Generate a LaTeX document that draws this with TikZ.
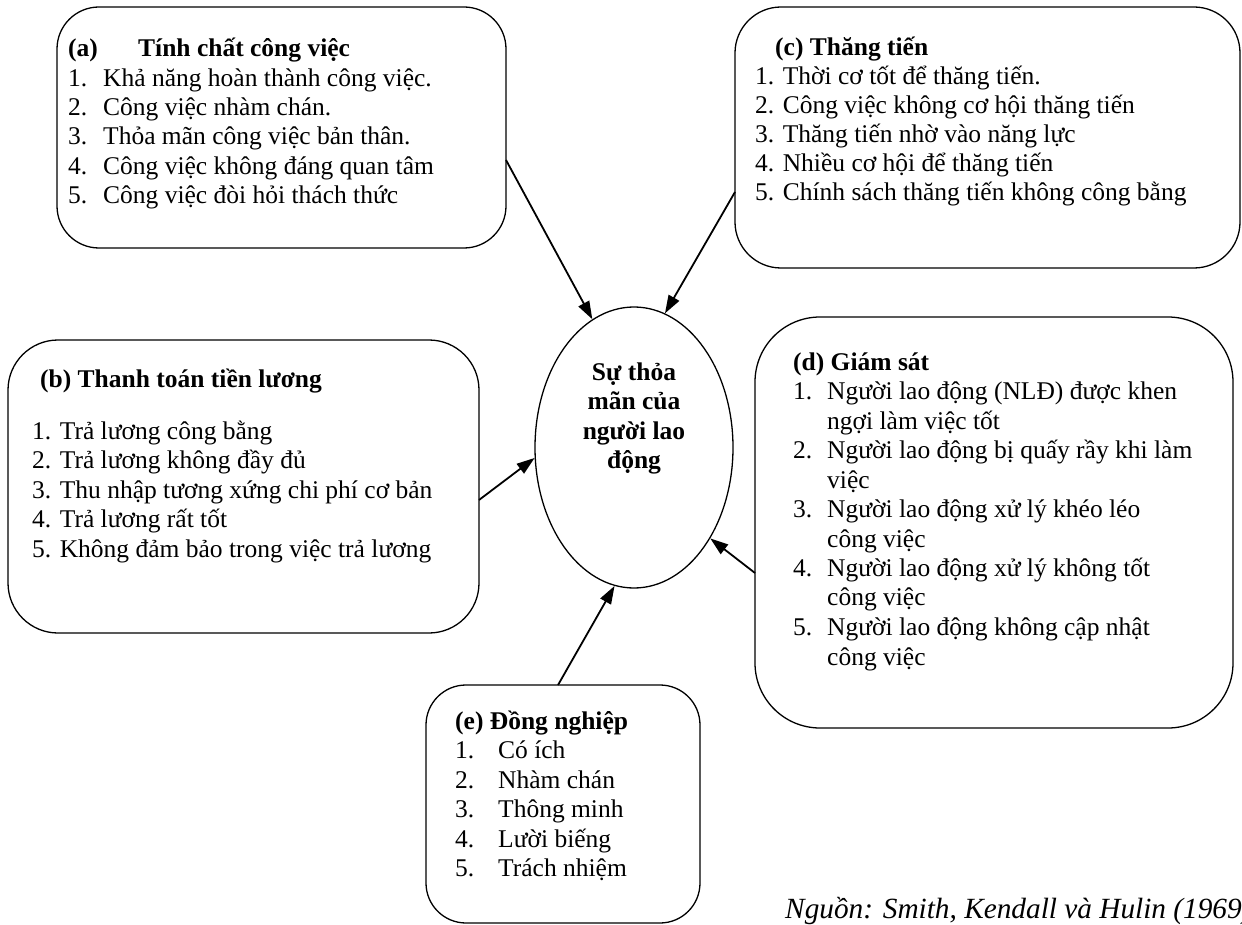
\documentclass[tikz,border=0pt]{standalone}
\usepackage{fontspec}
\setmainfont{Liberation Serif}
\usetikzlibrary{shapes.geometric,arrows.meta}
\begin{document}
\begin{tikzpicture}[x=1pt,y=-1pt,
  rbox/.style={draw, line width=1.3pt, rectangle, inner sep=0pt},
  txt/.style={anchor=base west, inner sep=0pt, align=left},
  arr/.style={line width=1.8pt, -{Triangle[length=18pt,width=12pt]}},
]
\useasboundingbox (0,0) rectangle (1242,925);

% boxes
\node[rbox, rounded corners=42pt, minimum width=449pt, minimum height=241pt] (A) at (281.5,127.5) {};
\node[rbox, rounded corners=46pt, minimum width=505pt, minimum height=261pt] (C) at (987.5,137.5) {};
\node[rbox, rounded corners=50pt, minimum width=471pt, minimum height=293pt] (B) at (243.5,486.5) {};
\node[rbox, rounded corners=65pt, minimum width=478pt, minimum height=411pt] (D) at (994,522.5) {};
\node[rbox, rounded corners=40pt, minimum width=274pt, minimum height=238pt] (Ebox) at (563,804) {};
\node[draw, line width=1.3pt, ellipse, inner sep=0pt, minimum width=198pt, minimum height=281pt] (S) at (634,447.5) {};

% texts
\node[txt, font=\fontsize{25.5}{29.3}\selectfont] (ta) at (68,57) {\begin{tabular}[t]{@{}l@{}}
\textbf{\makebox[70pt][l]{(a)}Tính chất công việc}\\
\makebox[35pt][l]{1.}Khả năng hoàn thành công việc.\\
\makebox[35pt][l]{2.}Công việc nhàm chán.\\
\makebox[35pt][l]{3.}Thỏa mãn công việc bản thân.\\
\makebox[35pt][l]{4.}Công việc không đáng quan tâm\\
\makebox[35pt][l]{5.}Công việc đòi hỏi thách thức
\end{tabular}};

\node[txt, font=\fontsize{25.5}{29}\selectfont] (tc) at (755,56) {\begin{tabular}[t]{@{}l@{}}
\hspace*{20pt}\textbf{(c) Thăng tiến}\\
1. Thời cơ tốt để thăng tiến.\\
2. Công việc không cơ hội thăng tiến\\
3. Thăng tiến nhờ vào năng lực\\
4. Nhiều cơ hội để thăng tiến\\
5. Chính sách thăng tiến không công bằng
\end{tabular}};

\node[txt, font=\fontsize{25.5}{29.5}\selectfont] (tb) at (32,387) {\begin{tabular}[t]{@{}l@{}}
\hspace*{8pt}\textbf{(b) Thanh toán tiền lương}\\[22.5pt]
1. Trả lương công bằng\\
2. Trả lương không đầy đủ\\
3. Thu nhập tương xứng chi phí cơ bản\\
4. Trả lương rất tốt\\
5. Không đảm bảo trong việc trả lương
\end{tabular}};

\node[txt, font=\fontsize{25.5}{29.5}\selectfont] (td) at (793,370) {\begin{tabular}[t]{@{}l@{}}
\textbf{(d) Giám sát}\\
\makebox[34pt][l]{1.}Người lao động (NLĐ) được khen\\
\makebox[34pt][l]{}ngợi làm việc tốt\\
\makebox[34pt][l]{2.}Người lao động bị quấy rầy khi làm\\
\makebox[34pt][l]{}việc\\
\makebox[34pt][l]{3.}Người lao động xử lý khéo léo\\
\makebox[34pt][l]{}công việc\\
\makebox[34pt][l]{4.}Người lao động xử lý không tốt\\
\makebox[34pt][l]{}công việc\\
\makebox[34pt][l]{5.}Người lao động không cập nhật\\
\makebox[34pt][l]{}công việc
\end{tabular}};

\node[txt, font=\fontsize{25.5}{29.5}\selectfont] (te) at (455,729) {\begin{tabular}[t]{@{}l@{}}
\textbf{(e) Đồng nghiệp}\\
\makebox[43pt][l]{1.}Có ích\\
\makebox[43pt][l]{2.}Nhàm chán\\
\makebox[43pt][l]{3.}Thông minh\\
\makebox[43pt][l]{4.}Lười biếng\\
\makebox[43pt][l]{5.}Trách nhiệm
\end{tabular}};

\node[anchor=base, inner sep=0pt, align=center, font=\fontsize{25.5}{29.5}\selectfont\bfseries] (ts) at (634,380) {\begin{tabular}[t]{@{}c@{}}
Sự thỏa\\mãn của\\người lao\\động
\end{tabular}};

\node[anchor=base west, inner sep=0pt, font=\fontsize{29.3}{34}\selectfont\itshape] (src) at (785,918) {Nguồn: Smith, Kendall và Hulin (1969)};

% connectors
\coordinate (pa) at (506,160);
\coordinate (pc) at (735,192);
\coordinate (pb) at (479,500);
\coordinate (pd) at (755,573);
\coordinate (pe) at (558,685);
\draw[arr] (pa) -- (S.108);
\draw[arr] (pc) -- (S.77);
\draw[arr] (pb) -- (S.186);
\draw[arr] (pd) -- (S.310);
\draw[arr] (pe) -- (S.262);
\end{tikzpicture}
\end{document}
